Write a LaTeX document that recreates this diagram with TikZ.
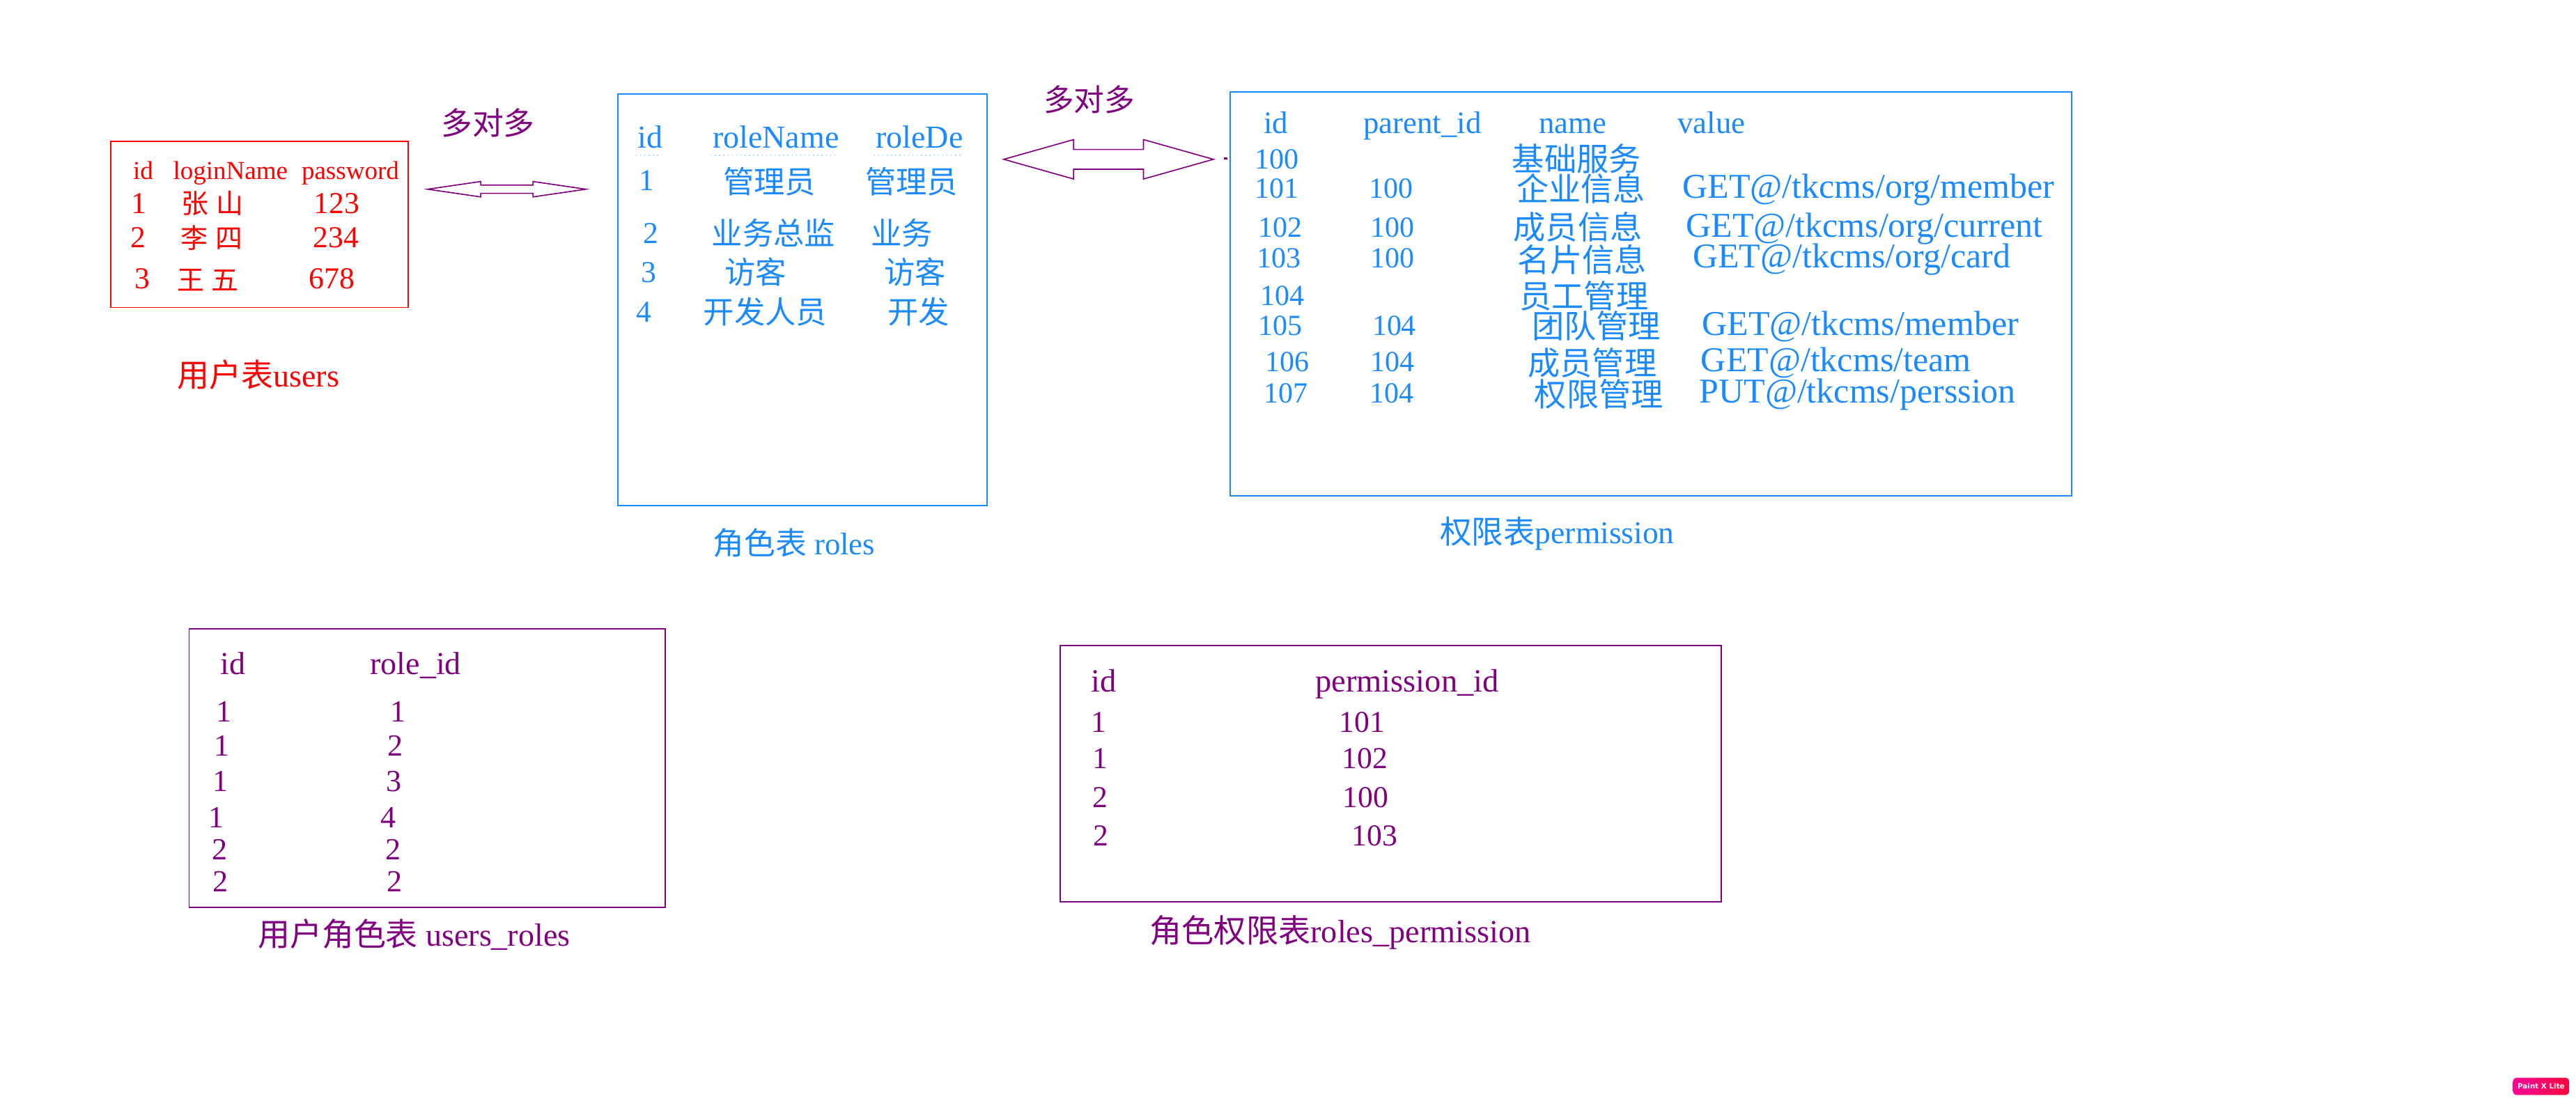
\documentclass[tikz,border=0pt]{standalone}
\usepackage{fontspec}
\usetikzlibrary{calc}
\setmainfont{Liberation Serif}
\newfontfamily\cjk{Noto Sans CJK SC}
\newfontfamily\wmfont{DejaVu Sans}
\definecolor{cred}{RGB}{255,0,0}
\definecolor{cblue}{RGB}{28,138,255}
\definecolor{cpurp}{RGB}{128,0,128}
\definecolor{wmA}{RGB}{255,0,150}
\definecolor{wmB}{RGB}{255,0,60}
\tikzset{
  tl/.style={inner sep=0pt, anchor=base west},
  tc/.style={inner sep=0pt, anchor=west},
  fs/.style={font=\fontsize{#1}{#1}\selectfont},
  fc/.style={font=\cjk\fontsize{#1}{#1}\selectfont},
  tabbox/.style={draw, inner sep=0pt},
  dblarrow/.style={draw=cpurp, line width=0.7pt, line join=miter},
  hdrline/.style={draw=cblue!35, line width=0.6pt, dotted},
}
\newcommand\gapc{\hspace{4.6pt}}
\begin{document}
\begin{tikzpicture}[x=1pt,y=-1pt]
\useasboundingbox (0,0) rectangle (1568,670);
\fill[white] (0,0) rectangle (1568,670);

% ---------- users table (red) ----------
\node[tabbox, draw=cred, line width=0.8pt, minimum width=180.7pt, minimum height=101pt] (users) at (157.95,136.7) {};
\node[tl,fs=15.7,text=cred] (u-h1) at (80.8,109.2) {id};
\node[tl,fs=15.7,text=cred] (u-h2) at (105.2,109.2) {loginName};
\node[tl,fs=15.7,text=cred] (u-h3) at (183.4,109.2) {password};
\node[tl,fs=18.5,text=cred] (u-11) at (79.8,130) {1};
\node[tc,fc=16.5,text=cred] (u-12) at (110.3,124) {张\gapc 山};
\node[tl,fs=18.5,text=cred] (u-13) at (190.8,130) {123};
\node[tl,fs=18.5,text=cred] (u-21) at (79.5,150.9) {2};
\node[tc,fc=16.5,text=cred] (u-22) at (110,144.9) {李\gapc 四};
\node[tl,fs=18.5,text=cred] (u-23) at (190.4,150.9) {234};
\node[tl,fs=18.5,text=cred] (u-31) at (81.8,175.9) {3};
\node[tc,fc=16.5,text=cred] (u-32) at (107.5,170.3) {王\gapc 五};
\node[tl,fs=18.5,text=cred] (u-33) at (187.9,175.9) {678};
\node[tl,fs=19.5,text=cred] (u-cap) at (107.7,235.7) {{\cjk 用户表}users};

% ---------- roles table (blue) ----------
\node[tabbox, draw=cblue, line width=1pt, minimum width=224.6pt, minimum height=250.5pt] (roles) at (488.4,182.55) {};
\node[tl,fs=19.5,text=cblue] (r-h1) at (388,90) {id};
\node[tl,fs=19.5,text=cblue] (r-h2) at (433.6,90) {roleName};
\node[tl,fs=19.5,text=cblue] (r-h3) at (532.9,90) {roleDe};
\draw[hdrline] (387,94.5) -- (401.5,94.5);
\draw[hdrline] (432.5,94.5) -- (509.7,94.5);
\draw[hdrline] (532,94.5) -- (585,94.5);
\node[tl,fs=18.5,text=cblue] (r-11) at (389,116) {1};
\node[tc,fc=18.8,text=cblue] (r-12) at (440,110.5) {管理员};
\node[tc,fc=18.8,text=cblue] (r-13) at (526.5,110.5) {管理员};
\node[tl,fs=18.5,text=cblue] (r-21) at (391.5,148) {2};
\node[tc,fc=18.8,text=cblue] (r-22) at (433,141.7) {业务总监};
\node[tc,fc=18.8,text=cblue] (r-23) at (530,141.7) {业务};
\node[tl,fs=18.5,text=cblue] (r-31) at (390,172) {3};
\node[tc,fc=18.8,text=cblue] (r-32) at (441,165.4) {访客};
\node[tc,fc=18.8,text=cblue] (r-33) at (538,165.4) {访客};
\node[tl,fs=18.5,text=cblue] (r-41) at (387,196) {4};
\node[tc,fc=18.8,text=cblue] (r-42) at (428,190) {开发人员};
\node[tc,fc=18.8,text=cblue] (r-43) at (540,190) {开发};
\node[tl,fs=19,text=cblue] (r-cap) at (433.8,337.8) {{\cjk 角色表} roles};

% ---------- permission table (blue) ----------
\node[tabbox, draw=cblue, line width=1pt, minimum width=512pt, minimum height=245.8pt] (perm) at (1004.9,178.9) {};
\node[tl,fs=19,text=cblue] (p-h1) at (769,81) {id};
\node[tl,fs=19,text=cblue] (p-h2) at (829.7,81) {parent\_id};
\node[tl,fs=19,text=cblue] (p-h3) at (936.5,81) {name};
\node[tl,fs=19,text=cblue] (p-h4) at (1021,81) {value};
% row 100
\node[tl,fs=17.8,text=cblue] (p-a1) at (763.8,102.8) {100};
\node[tc,fc=19.6,text=cblue] (p-a3) at (920.3,96.6) {基础服务};
% row 101
\node[tl,fs=17.8,text=cblue] (p-b1) at (763.8,120.7) {101};
\node[tl,fs=17.8,text=cblue] (p-b2) at (833,120.7) {100};
\node[tc,fc=19.6,text=cblue] (p-b3) at (923,115) {企业信息};
\node[tl,fs=21.2,text=cblue] (p-b4) at (1024,120.7) {GET@/tkcms/org/member};
% row 102
\node[tl,fs=17.8,text=cblue] (p-c1) at (765.9,144.3) {102};
\node[tl,fs=17.8,text=cblue] (p-c2) at (834.1,144.3) {100};
\node[tc,fc=19.6,text=cblue] (p-c3) at (921,138.1) {成员信息};
\node[tl,fs=21.2,text=cblue] (p-c4) at (1026.1,144.3) {GET@/tkcms/org/current};
% row 103
\node[tl,fs=17.8,text=cblue] (p-d1) at (764.8,163.2) {103};
\node[tl,fs=17.8,text=cblue] (p-d2) at (834,163.2) {100};
\node[tc,fc=19.6,text=cblue] (p-d3) at (923.7,157.9) {名片信息};
\node[tl,fs=21.2,text=cblue] (p-d4) at (1030.2,163.2) {GET@/tkcms/org/card};
% row 104
\node[tl,fs=17.8,text=cblue] (p-e1) at (767.2,185.8) {104};
\node[tc,fc=19.6,text=cblue] (p-e3) at (924.7,180.2) {员工管理};
% row 105
\node[tl,fs=17.8,text=cblue] (p-f1) at (765.9,204.1) {105};
\node[tl,fs=17.8,text=cblue] (p-f2) at (835.1,204.1) {104};
\node[tc,fc=19.6,text=cblue] (p-f3) at (932.2,198.5) {团队管理};
\node[tl,fs=21.2,text=cblue] (p-f4) at (1035.9,204.1) {GET@/tkcms/member};
% row 106
\node[tl,fs=17.8,text=cblue] (p-g1) at (769.9,226.4) {106};
\node[tl,fs=17.8,text=cblue] (p-g2) at (834,226.4) {104};
\node[tc,fc=19.6,text=cblue] (p-g3) at (929.8,221.1) {成员管理};
\node[tl,fs=21.2,text=cblue] (p-g4) at (1035.2,226.4) {GET@/tkcms/team};
% row 107
\node[tl,fs=17.8,text=cblue] (p-h1r) at (769.2,245.3) {107};
\node[tl,fs=17.8,text=cblue] (p-h2r) at (833.5,245.3) {104};
\node[tc,fc=19.6,text=cblue] (p-h3r) at (933.8,240) {权限管理};
\node[tl,fs=21.2,text=cblue] (p-h4r) at (1034.2,245.3) {PUT@/tkcms/perssion};
\node[tl,fs=19.3,text=cblue] (p-cap) at (876.4,331) {{\cjk 权限表}permission};

% ---------- users_roles table (purple) ----------
\node[tabbox, draw=cpurp, line width=0.8pt, minimum width=289.9pt, minimum height=169.8pt] (ur) at (260.05,467.6) {};
\node[tl,fs=19.5,text=cpurp] (ur-h1) at (134,410.8) {id};
\node[tl,fs=19.5,text=cpurp] (ur-h2) at (225.2,410.8) {role\_id};
\node[tl,fs=18.7,text=cpurp] (ur-11) at (131.3,439.3) {1};
\node[tl,fs=18.7,text=cpurp] (ur-12) at (237.4,439.3) {1};
\node[tl,fs=18.7,text=cpurp] (ur-21) at (130.3,460.4) {1};
\node[tl,fs=18.7,text=cpurp] (ur-22) at (235.7,460.4) {2};
\node[tl,fs=18.7,text=cpurp] (ur-31) at (129.3,481.8) {1};
\node[tl,fs=18.7,text=cpurp] (ur-32) at (235.1,481.8) {3};
\node[tl,fs=18.7,text=cpurp] (ur-41) at (126.9,504.1) {1};
\node[tl,fs=18.7,text=cpurp] (ur-42) at (231.7,504.1) {4};
\node[tl,fs=18.7,text=cpurp] (ur-51) at (128.7,523.5) {2};
\node[tl,fs=18.7,text=cpurp] (ur-52) at (234.7,523.5) {2};
\node[tl,fs=18.7,text=cpurp] (ur-61) at (129.3,543) {2};
\node[tl,fs=18.7,text=cpurp] (ur-62) at (235.3,543) {2};
\node[tl,fs=19.5,text=cpurp] (ur-cap) at (156.7,575.9) {{\cjk 用户角色表} users\_roles};

% ---------- roles_permission table (purple) ----------
\node[tabbox, draw=cpurp, line width=0.8pt, minimum width=402.2pt, minimum height=156.2pt] (rp) at (846.6,471) {};
\node[tl,fs=19.7,text=cpurp] (rp-h1) at (663.9,421.2) {id};
\node[tl,fs=19.7,text=cpurp] (rp-h2) at (800.5,421.2) {permission\_id};
\node[tl,fs=18.5,text=cpurp] (rp-11) at (663.9,445.9) {1};
\node[tl,fs=18.5,text=cpurp] (rp-12) at (815.1,445.9) {101};
\node[tl,fs=18.5,text=cpurp] (rp-21) at (665,468.1) {1};
\node[tl,fs=18.5,text=cpurp] (rp-22) at (816.7,468.1) {102};
\node[tl,fs=18.5,text=cpurp] (rp-31) at (665,491.8) {2};
\node[tl,fs=18.5,text=cpurp] (rp-32) at (817.2,491.8) {100};
\node[tl,fs=18.5,text=cpurp] (rp-41) at (665.2,515.1) {2};
\node[tl,fs=18.5,text=cpurp] (rp-42) at (822.6,515.1) {103};
\node[tl,fs=19.6,text=cpurp] (rp-cap) at (699.6,573.8) {{\cjk 角色权限表}roles\_permission};

% ---------- many-to-many arrows ----------
\node[inner sep=0pt, fc=19, text=cpurp] (m2m1) at (297,75) {多对多};
\node[inner sep=0pt, fc=18.5, text=cpurp] (m2m2) at (663,60.5) {多对多};
\coordinate (a1l) at (260.3,115.2);
\coordinate (a2l) at (611,97);
\coordinate (a2r) at (738.6,97);
\draw[dblarrow] (a1l) -- ++(32.3,-4.7) -- ++(0,2.2) -- ++(31.8,0) -- ++(0,-2.2)
  -- ++(32.2,4.7) -- ++(-32.2,4.7) -- ++(0,-2.2) -- ++(-31.8,0) -- ++(0,2.2) -- cycle;
\draw[dblarrow] (a2l) -- ++(42.5,-12) -- ++(0,6) -- ++(42.5,0) -- ++(0,-6)
  -- ++(42.6,12) -- ++(-42.6,12) -- ++(0,-6) -- ++(-42.5,0) -- ++(0,6) -- cycle;
\draw[cpurp, line width=1.4pt] ($(a2r)+(6.4,-0.5)$) -- ($(perm.west |- a2r)+(-1.3,-0.5)$);

% ---------- watermark ----------
\node[rounded corners=2pt, left color=wmA, right color=wmB, draw=none,
      minimum width=34.1pt, minimum height=10.5pt, inner sep=0pt,
      text=white, font=\wmfont\bfseries\fontsize{4.4}{4.4}\selectfont] (wm) at (1546.75,661.45) {Paint X Lite};
\end{tikzpicture}
\end{document}
